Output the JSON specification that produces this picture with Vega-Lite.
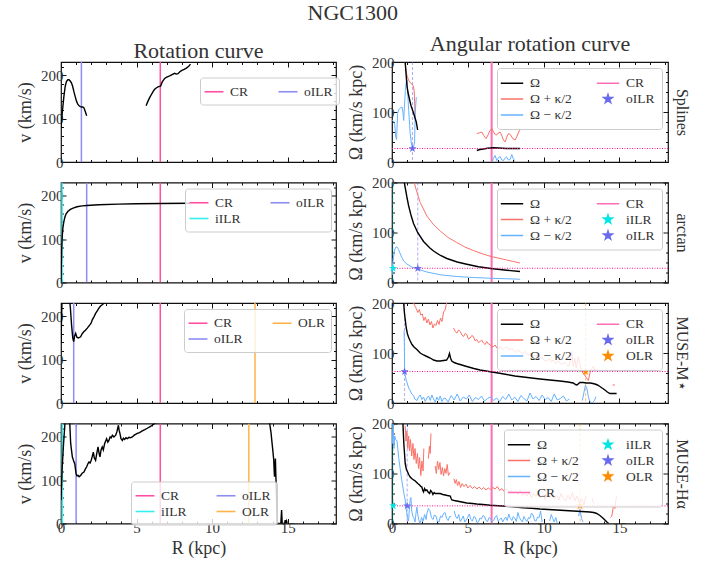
{
"$schema": "https://vega.github.io/schema/vega-lite/v6.json",
"padding": {"left": 15, "top": 2, "right": 0, "bottom": 2},
"title": {"text": "NGC1300", "fontSize": 22, "anchor": "middle", "offset": 7},
"config": {
  "font": "Liberation Serif",
  "view": {"stroke": "#111111", "strokeWidth": 1.2},
  "axis": {"labelFont": "Liberation Serif", "labelFontSize": 15, "labelColor": "#333333", "titleFont": "Liberation Serif", "titleFontSize": 18, "titleFontWeight": "normal", "titleColor": "#333333", "tickColor": "#111111", "tickWidth": 1, "grid": false, "labelFlush": false, "labelOverlap": false, "titlePadding": 4, "domain": false},
  "legend": {"labelFont": "Liberation Serif", "labelFontSize": 13.5, "labelColor": "#333333"},
  "title": {"font": "Liberation Serif", "fontWeight": "normal", "color": "#333333", "fontSize": 22}
},
"resolve": {"scale": {"stroke": "independent", "fill": "independent", "shape": "independent", "color": "independent"}, "legend": {"stroke": "independent", "fill": "independent", "shape": "independent", "color": "independent"}},
"datasets": {
  "ax": [{"R": 0, "W": 0}],
  "L1": [{"g":1,"R":0.0,"W":78},{"g":1,"R":0.1,"W":120},{"g":1,"R":0.19,"W":151},{"g":1,"R":0.28,"W":175},{"g":1,"R":0.36,"W":186},{"g":1,"R":0.45,"W":190},{"g":1,"R":0.53,"W":190},{"g":1,"R":0.61,"W":187},{"g":1,"R":0.69,"W":183},{"g":1,"R":0.77,"W":175},{"g":1,"R":0.85,"W":163},{"g":1,"R":0.95,"W":150},{"g":1,"R":1.03,"W":140},{"g":1,"R":1.12,"W":133},{"g":1,"R":1.2,"W":130},{"g":1,"R":1.28,"W":128},{"g":1,"R":1.37,"W":127},{"g":1,"R":1.45,"W":127},{"g":1,"R":1.52,"W":125},{"g":1,"R":1.6,"W":117},{"g":1,"R":1.7,"W":107},
    {"g":2,"R":5.63,"W":130},{"g":2,"R":5.75,"W":140},{"g":2,"R":5.86,"W":148},{"g":2,"R":6.0,"W":157},{"g":2,"R":6.1,"W":163},{"g":2,"R":6.2,"W":168},{"g":2,"R":6.3,"W":171},{"g":2,"R":6.45,"W":174},{"g":2,"R":6.59,"W":175},{"g":2,"R":6.7,"W":185},{"g":2,"R":6.86,"W":193},{"g":2,"R":7.0,"W":196},{"g":2,"R":7.19,"W":199},{"g":2,"R":7.35,"W":202},{"g":2,"R":7.52,"W":205},{"g":2,"R":7.64,"W":203},{"g":2,"R":7.74,"W":204},{"g":2,"R":7.85,"W":208},{"g":2,"R":7.97,"W":211},{"g":2,"R":8.15,"W":214},{"g":2,"R":8.3,"W":217},{"g":2,"R":8.45,"W":221},{"g":2,"R":8.57,"W":226}],
  "L1r": [{"lab":"CR","R":6.57},{"lab":"oILR","R":1.35}],
  "L2": [{"g":1,"R":0,"W":0},{"g":1,"R":0.02,"W":40},{"g":1,"R":0.04,"W":70},{"g":1,"R":0.07,"W":100},{"g":1,"R":0.12,"W":125},{"g":1,"R":0.18,"W":139},{"g":1,"R":0.25,"W":150},{"g":1,"R":0.33,"W":158},{"g":1,"R":0.45,"W":164},{"g":1,"R":0.62,"W":169},{"g":1,"R":0.8,"W":172},{"g":1,"R":1.06,"W":175},{"g":1,"R":1.4,"W":177},{"g":1,"R":1.7,"W":178},{"g":1,"R":2.5,"W":179.5},{"g":1,"R":3.8,"W":181},{"g":1,"R":5,"W":182},{"g":1,"R":6.6,"W":182.5},{"g":1,"R":8.53,"W":183}],
  "L2r": [{"lab":"CR","R":6.57},{"lab":"oILR","R":1.7},{"lab":"iILR","R":0.07}],
  "L3": [{"g":1,"R":0.0,"W":138},{"g":1,"R":0.04,"W":200},{"g":1,"R":0.07,"W":240},{"g":1,"R":0.3,"W":300},{"g":1,"R":0.55,"W":245},{"g":1,"R":0.62,"W":220},{"g":1,"R":0.7,"W":180},{"g":1,"R":0.78,"W":150},{"g":1,"R":0.84,"W":142},{"g":1,"R":0.9,"W":155},{"g":1,"R":0.97,"W":161},{"g":1,"R":1.05,"W":152},{"g":1,"R":1.15,"W":150},{"g":1,"R":1.3,"W":153},{"g":1,"R":1.4,"W":160},{"g":1,"R":1.52,"W":165},{"g":1,"R":1.62,"W":168},{"g":1,"R":1.74,"W":173},{"g":1,"R":1.85,"W":178},{"g":1,"R":1.92,"W":181},{"g":1,"R":2.0,"W":185},{"g":1,"R":2.07,"W":192},{"g":1,"R":2.18,"W":199},{"g":1,"R":2.29,"W":207},{"g":1,"R":2.4,"W":213},{"g":1,"R":2.51,"W":219},{"g":1,"R":2.62,"W":224},{"g":1,"R":2.73,"W":227},{"g":1,"R":2.89,"W":232},{"g":1,"R":3.1,"W":245}],
  "L3r": [{"lab":"CR","R":6.57},{"lab":"OLR","R":12.84},{"lab":"oILR","R":0.84}],
  "L4": [{"g":1,"R":0.0,"W":54},{"g":1,"R":0.08,"W":130},{"g":1,"R":0.17,"W":185},{"g":1,"R":0.25,"W":225},{"g":1,"R":0.3,"W":260},{"g":1,"R":0.4,"W":280},{"g":1,"R":0.5,"W":250},{"g":1,"R":0.58,"W":231},{"g":1,"R":0.64,"W":185},{"g":1,"R":0.75,"W":154},{"g":1,"R":0.85,"W":143},{"g":1,"R":0.91,"W":138},{"g":1,"R":0.96,"W":125},{"g":1,"R":1.0,"W":115},{"g":1,"R":1.06,"W":110},{"g":1,"R":1.13,"W":111},{"g":1,"R":1.2,"W":108},{"g":1,"R":1.3,"W":111},{"g":1,"R":1.4,"W":116},{"g":1,"R":1.52,"W":119},{"g":1,"R":1.6,"W":125},{"g":1,"R":1.7,"W":131},{"g":1,"R":1.78,"W":138},{"g":1,"R":1.85,"W":142},{"g":1,"R":1.93,"W":140},{"g":1,"R":2.0,"W":146},{"g":1,"R":2.07,"W":155},{"g":1,"R":2.14,"W":165},{"g":1,"R":2.2,"W":152},{"g":1,"R":2.29,"W":146},{"g":1,"R":2.36,"W":160},{"g":1,"R":2.45,"W":177},{"g":1,"R":2.52,"W":162},{"g":1,"R":2.58,"W":154},{"g":1,"R":2.65,"W":170},{"g":1,"R":2.73,"W":177},{"g":1,"R":2.8,"W":170},{"g":1,"R":2.89,"W":185},{"g":1,"R":2.95,"W":190},{"g":1,"R":3.02,"W":196},{"g":1,"R":3.1,"W":188},{"g":1,"R":3.17,"W":192},{"g":1,"R":3.25,"W":200},{"g":1,"R":3.32,"W":198},{"g":1,"R":3.4,"W":204},{"g":1,"R":3.5,"W":200},{"g":1,"R":3.62,"W":204},{"g":1,"R":3.7,"W":212},{"g":1,"R":3.8,"W":227},{"g":1,"R":3.85,"W":215},{"g":1,"R":3.9,"W":208},{"g":1,"R":3.97,"W":196},{"g":1,"R":4.06,"W":192},{"g":1,"R":4.13,"W":197},{"g":1,"R":4.21,"W":194},{"g":1,"R":4.3,"W":198},{"g":1,"R":4.39,"W":196},{"g":1,"R":4.5,"W":199},{"g":1,"R":4.6,"W":198},{"g":1,"R":4.72,"W":200},{"g":1,"R":4.85,"W":204},{"g":1,"R":5.05,"W":208},{"g":1,"R":5.2,"W":210},{"g":1,"R":5.38,"W":214},{"g":1,"R":5.55,"W":217},{"g":1,"R":5.71,"W":220},{"g":1,"R":5.9,"W":224},{"g":1,"R":6.04,"W":227},{"g":1,"R":6.2,"W":231},{"g":1,"R":6.5,"W":240},{"g":1,"R":8,"W":260},{"g":1,"R":10,"W":270},{"g":1,"R":12,"W":265},{"g":1,"R":13.5,"W":245},{"g":1,"R":13.81,"W":231},{"g":1,"R":13.9,"W":210},{"g":1,"R":13.97,"W":185},{"g":1,"R":14.03,"W":165},{"g":1,"R":14.08,"W":146},{"g":1,"R":14.11,"W":120},{"g":1,"R":14.13,"W":108},{"g":1,"R":14.16,"W":130},{"g":1,"R":14.19,"W":150},{"g":1,"R":14.22,"W":110},{"g":1,"R":14.26,"W":69},{"g":1,"R":14.3,"W":0},{"g":1,"R":14.55,"W":0},{"g":1,"R":14.6,"W":31},{"g":1,"R":14.64,"W":0},{"g":1,"R":14.8,"W":0},{"g":1,"R":14.84,"W":8},{"g":1,"R":14.87,"W":0},{"g":1,"R":14.93,"W":6},{"g":1,"R":14.97,"W":0}],
  "L4r": [{"lab":"CR","R":6.57},{"lab":"oILR","R":1.0},{"lab":"iILR","R":0.08},{"lab":"OLR","R":12.43}],
  "R1k": [{"g":1,"R":0.87,"W":200},{"g":1,"R":0.93,"W":175},{"g":1,"R":0.99,"W":152},{"g":1,"R":1.05,"W":140},{"g":1,"R":1.1,"W":133},{"g":1,"R":1.18,"W":122},{"g":1,"R":1.25,"W":113},{"g":1,"R":1.33,"W":106},{"g":1,"R":1.42,"W":98},{"g":1,"R":1.5,"W":90},{"g":1,"R":1.6,"W":80},{"g":1,"R":1.69,"W":64},
    {"g":2,"R":5.59,"W":23},{"g":2,"R":5.8,"W":25},{"g":2,"R":6.03,"W":26},{"g":2,"R":6.3,"W":27.5},{"g":2,"R":6.69,"W":28.5},{"g":2,"R":7.0,"W":28},{"g":2,"R":7.56,"W":27},{"g":2,"R":8.0,"W":27},{"g":2,"R":8.44,"W":27}],
  "R1p": [{"g":1,"R":0.85,"W":200},{"g":1,"R":0.92,"W":185},{"g":1,"R":0.99,"W":173},{"g":1,"R":1.1,"W":163},{"g":1,"R":1.25,"W":157},{"g":1,"R":1.35,"W":155},{"g":1,"R":1.42,"W":150},{"g":1,"R":1.47,"W":140},{"g":1,"R":1.5,"W":110},{"g":1,"R":1.53,"W":88},
    {"g":2,"R":5.59,"W":57},{"g":2,"R":5.75,"W":58},{"g":2,"R":5.92,"W":60},{"g":2,"R":6.05,"W":53},{"g":2,"R":6.2,"W":47},{"g":2,"R":6.3,"W":52},{"g":2,"R":6.45,"W":62},{"g":2,"R":6.58,"W":67},{"g":2,"R":6.7,"W":60},{"g":2,"R":6.8,"W":55},{"g":2,"R":6.91,"W":54},{"g":2,"R":7.0,"W":58},{"g":2,"R":7.13,"W":60},{"g":2,"R":7.25,"W":52},{"g":2,"R":7.35,"W":44},{"g":2,"R":7.46,"W":40},{"g":2,"R":7.57,"W":50},{"g":2,"R":7.68,"W":57},{"g":2,"R":7.8,"W":55},{"g":2,"R":7.9,"W":50},{"g":2,"R":8.0,"W":46},{"g":2,"R":8.12,"W":44},{"g":2,"R":8.25,"W":52},{"g":2,"R":8.35,"W":60},{"g":2,"R":8.44,"W":64}],
  "R1m": [{"g":1,"R":0.0,"W":84},{"g":1,"R":0.1,"W":82},{"g":1,"R":0.18,"W":75},{"g":1,"R":0.25,"W":50},{"g":1,"R":0.3,"W":45},{"g":1,"R":0.37,"W":97},{"g":1,"R":0.45,"W":105},{"g":1,"R":0.55,"W":108},{"g":1,"R":0.66,"W":110},{"g":1,"R":0.72,"W":100},{"g":1,"R":0.77,"W":83},{"g":1,"R":0.82,"W":110},{"g":1,"R":0.88,"W":143},{"g":1,"R":0.94,"W":160},{"g":1,"R":0.99,"W":163},{"g":1,"R":1.05,"W":130},{"g":1,"R":1.1,"W":103},{"g":1,"R":1.2,"W":57},{"g":1,"R":1.3,"W":33},{"g":1,"R":1.35,"W":28},{"g":1,"R":1.42,"W":30},{"g":1,"R":1.49,"W":40},{"g":1,"R":1.53,"W":97},{"g":1,"R":1.6,"W":130},
    {"g":2,"R":6.6,"W":0},{"g":2,"R":6.69,"W":7},{"g":2,"R":6.8,"W":13},{"g":2,"R":6.91,"W":3},{"g":2,"R":7.02,"W":9},{"g":2,"R":7.13,"W":11},{"g":2,"R":7.24,"W":4},{"g":2,"R":7.35,"W":3},{"g":2,"R":7.46,"W":8},{"g":2,"R":7.56,"W":10},{"g":2,"R":7.67,"W":4},{"g":2,"R":7.79,"W":5},{"g":2,"R":7.9,"W":15},{"g":2,"R":8.0,"W":6},{"g":2,"R":8.12,"W":3}],
  "R1r": [{"lab":"CR","R":6.57},{"lab":"oILR","R":1.35,"W":27},{"lab":"P","W":27}],
  "R2k": [{"g":1,"R":0.81,"W":200},{"g":1,"R":0.9,"W":185},{"g":1,"R":1.0,"W":168},{"g":1,"R":1.1,"W":153},{"g":1,"R":1.25,"W":135},{"g":1,"R":1.42,"W":118},{"g":1,"R":1.69,"W":100},{"g":1,"R":2.08,"W":82},{"g":1,"R":2.5,"W":69},{"g":1,"R":2.74,"W":63},{"g":1,"R":3.2,"W":54},{"g":1,"R":3.62,"W":48},{"g":1,"R":4.3,"W":41},{"g":1,"R":4.93,"W":36.5},{"g":1,"R":5.7,"W":31.5},{"g":1,"R":6.53,"W":28},{"g":1,"R":7.56,"W":24.5},{"g":1,"R":8.44,"W":22}],
  "R2p": [{"g":1,"R":1.47,"W":200},{"g":1,"R":1.6,"W":185},{"g":1,"R":1.86,"W":160},{"g":1,"R":2.3,"W":133},{"g":1,"R":2.7,"W":117},{"g":1,"R":3.18,"W":103},{"g":1,"R":3.7,"W":90},{"g":1,"R":4.27,"W":80},{"g":1,"R":4.8,"W":71},{"g":1,"R":5.37,"W":64},{"g":1,"R":6.0,"W":57},{"g":1,"R":6.53,"W":52},{"g":1,"R":7.0,"W":49},{"g":1,"R":7.56,"W":45},{"g":1,"R":8.0,"W":42},{"g":1,"R":8.44,"W":39}],
  "R2m": [{"g":1,"R":0.01,"W":15},{"g":1,"R":0.03,"W":35},{"g":1,"R":0.1,"W":50},{"g":1,"R":0.16,"W":63},{"g":1,"R":0.21,"W":68},{"g":1,"R":0.26,"W":71},{"g":1,"R":0.32,"W":71},{"g":1,"R":0.38,"W":69},{"g":1,"R":0.43,"W":66},{"g":1,"R":0.55,"W":57},{"g":1,"R":0.65,"W":50},{"g":1,"R":0.8,"W":42},{"g":1,"R":0.98,"W":37},{"g":1,"R":1.3,"W":31},{"g":1,"R":1.69,"W":27},{"g":1,"R":2.3,"W":21},{"g":1,"R":3.18,"W":15.5},{"g":1,"R":4.27,"W":12},{"g":1,"R":5.37,"W":10},{"g":1,"R":6.53,"W":8.5},{"g":1,"R":7.56,"W":7.5},{"g":1,"R":8.44,"W":6.5}],
  "R2r": [{"lab":"CR","R":6.57},{"lab":"iILR","R":0.07,"W":28.5},{"lab":"oILR","R":1.7,"W":28.5},{"lab":"P","W":28.5}],
  "R3k": [{"g":1,"R":0.77,"W":200},{"g":1,"R":0.82,"W":180},{"g":1,"R":0.88,"W":165},{"g":1,"R":0.94,"W":150},{"g":1,"R":1.02,"W":138},{"g":1,"R":1.1,"W":131},{"g":1,"R":1.2,"W":124},{"g":1,"R":1.32,"W":117},{"g":1,"R":1.45,"W":112},{"g":1,"R":1.64,"W":107},{"g":1,"R":1.86,"W":100},{"g":1,"R":2.08,"W":96},{"g":1,"R":2.3,"W":93},{"g":1,"R":2.52,"W":90},{"g":1,"R":2.74,"W":86},{"g":1,"R":2.96,"W":84},{"g":1,"R":3.18,"W":84},{"g":1,"R":3.4,"W":85},{"g":1,"R":3.6,"W":86},{"g":1,"R":3.72,"W":92},{"g":1,"R":3.79,"W":99},{"g":1,"R":3.86,"W":90},{"g":1,"R":3.94,"W":84},{"g":1,"R":4.1,"W":81},{"g":1,"R":4.27,"W":79},{"g":1,"R":4.6,"W":76},{"g":1,"R":4.93,"W":73},{"g":1,"R":5.4,"W":69},{"g":1,"R":5.8,"W":66},{"g":1,"R":6.2,"W":64},{"g":1,"R":6.58,"W":62},{"g":1,"R":7.0,"W":60},{"g":1,"R":7.56,"W":57},{"g":1,"R":8.1,"W":54},{"g":1,"R":8.66,"W":52},{"g":1,"R":9.2,"W":50},{"g":1,"R":9.76,"W":48},{"g":1,"R":10.4,"W":46},{"g":1,"R":11.07,"W":44},{"g":1,"R":11.6,"W":42},{"g":1,"R":11.95,"W":40},{"g":1,"R":12.1,"W":37},{"g":1,"R":12.2,"W":36},{"g":1,"R":12.39,"W":41},{"g":1,"R":12.6,"W":41},{"g":1,"R":12.83,"W":40},{"g":1,"R":13.1,"W":40},{"g":1,"R":13.38,"W":38},{"g":1,"R":13.55,"W":36},{"g":1,"R":13.71,"W":33},{"g":1,"R":13.9,"W":29},{"g":1,"R":14.04,"W":26},{"g":1,"R":14.2,"W":22},{"g":1,"R":14.37,"W":19},{"g":1,"R":14.6,"W":19},{"g":1,"R":14.81,"W":19}],
  "R3p": [{"g":1,"R":1.38,"W":205},{"g":1,"R":1.45,"W":198},{"g":1,"R":1.53,"W":193},{"g":1,"R":1.6,"W":189},{"g":1,"R":1.7,"W":181},{"g":1,"R":1.8,"W":187},{"g":1,"R":1.9,"W":176},{"g":1,"R":2.0,"W":178},{"g":1,"R":2.1,"W":165},{"g":1,"R":2.2,"W":172},{"g":1,"R":2.3,"W":160},{"g":1,"R":2.4,"W":168},{"g":1,"R":2.5,"W":156},{"g":1,"R":2.6,"W":163},{"g":1,"R":2.7,"W":150},{"g":1,"R":2.8,"W":158},{"g":1,"R":2.9,"W":155},{"g":1,"R":3.0,"W":165},{"g":1,"R":3.1,"W":157},{"g":1,"R":3.2,"W":170},{"g":1,"R":3.3,"W":163},{"g":1,"R":3.4,"W":182},{"g":1,"R":3.5,"W":186},{"g":1,"R":3.58,"W":197},{"g":1,"R":3.68,"W":207},
    {"g":2,"R":4.06,"W":150},{"g":2,"R":4.17,"W":143},{"g":2,"R":4.28,"W":140},{"g":2,"R":4.39,"W":146},{"g":2,"R":4.5,"W":143},{"g":2,"R":4.61,"W":136},{"g":2,"R":4.72,"W":133},{"g":2,"R":4.83,"W":139},{"g":2,"R":4.93,"W":137},{"g":2,"R":5.04,"W":128},{"g":2,"R":5.15,"W":130},{"g":2,"R":5.26,"W":135},{"g":2,"R":5.37,"W":133},{"g":2,"R":5.48,"W":124},{"g":2,"R":5.59,"W":127},{"g":2,"R":5.7,"W":121},{"g":2,"R":5.81,"W":123},{"g":2,"R":5.92,"W":126},{"g":2,"R":6.03,"W":120},{"g":2,"R":6.14,"W":117},{"g":2,"R":6.25,"W":123},{"g":2,"R":6.36,"W":118},{"g":2,"R":6.47,"W":117},{"g":2,"R":6.58,"W":112},{"g":2,"R":6.69,"W":113},{"g":2,"R":6.8,"W":116},{"g":2,"R":6.91,"W":110},{"g":2,"R":7.02,"W":108},{"g":2,"R":7.13,"W":113},{"g":2,"R":7.24,"W":109},{"g":2,"R":7.35,"W":107},{"g":2,"R":7.46,"W":111},{"g":2,"R":7.57,"W":113},{"g":2,"R":7.7,"W":106},{"g":2,"R":7.85,"W":109},{"g":2,"R":8.0,"W":107},{"g":2,"R":8.15,"W":101},{"g":2,"R":8.3,"W":106},{"g":2,"R":8.44,"W":103},{"g":2,"R":8.6,"W":98},{"g":2,"R":8.75,"W":103},{"g":2,"R":8.88,"W":100},{"g":2,"R":9.0,"W":95},{"g":2,"R":9.15,"W":99},{"g":2,"R":9.32,"W":93},{"g":2,"R":9.5,"W":96},{"g":2,"R":9.65,"W":88},{"g":2,"R":9.76,"W":90},{"g":2,"R":9.9,"W":92},{"g":2,"R":10.05,"W":85},{"g":2,"R":10.2,"W":84},{"g":2,"R":10.35,"W":89},{"g":2,"R":10.5,"W":83},{"g":2,"R":10.64,"W":86},{"g":2,"R":10.8,"W":79},{"g":2,"R":10.95,"W":84},{"g":2,"R":11.07,"W":80},{"g":2,"R":11.2,"W":77},{"g":2,"R":11.35,"W":82},{"g":2,"R":11.51,"W":77},{"g":2,"R":11.65,"W":74},{"g":2,"R":11.75,"W":85},{"g":2,"R":11.85,"W":103},{"g":2,"R":11.95,"W":73},{"g":2,"R":12.05,"W":90},{"g":2,"R":12.15,"W":70},{"g":2,"R":12.28,"W":93},{"g":2,"R":12.4,"W":75},{"g":2,"R":12.5,"W":64},{"g":2,"R":12.65,"W":58},{"g":2,"R":12.83,"W":50},{"g":2,"R":12.95,"W":45},{"g":2,"R":13.05,"W":60},{"g":2,"R":13.15,"W":68},{"g":2,"R":13.27,"W":73},{"g":2,"R":13.38,"W":65},{"g":2,"R":13.49,"W":70},
    {"g":3,"R":14.55,"W":36},{"g":3,"R":14.7,"W":36}],
  "R3m": [{"g":1,"R":0.8,"W":145},{"g":1,"R":0.82,"W":100},{"g":1,"R":0.83,"W":63},{"g":1,"R":0.9,"W":50},{"g":1,"R":1.0,"W":40},{"g":1,"R":1.1,"W":30},{"g":1,"R":1.2,"W":25},{"g":1,"R":1.3,"W":18},{"g":1,"R":1.42,"W":15},{"g":1,"R":1.5,"W":8},{"g":1,"R":1.64,"W":5},{"g":1,"R":1.75,"W":12},{"g":1,"R":1.86,"W":16},{"g":1,"R":1.97,"W":7},{"g":1,"R":2.08,"W":12},{"g":1,"R":2.19,"W":3},{"g":1,"R":2.3,"W":10},{"g":1,"R":2.41,"W":14},{"g":1,"R":2.52,"W":5},{"g":1,"R":2.63,"W":16},{"g":1,"R":2.74,"W":8},{"g":1,"R":2.85,"W":2},{"g":1,"R":2.96,"W":12},{"g":1,"R":3.07,"W":5},{"g":1,"R":3.18,"W":14},{"g":1,"R":3.29,"W":3},{"g":1,"R":3.4,"W":9},{"g":1,"R":3.5,"W":10},{"g":1,"R":3.7,"W":2},{"g":1,"R":3.9,"W":15},{"g":1,"R":4.1,"W":6},{"g":1,"R":4.3,"W":18},{"g":1,"R":4.5,"W":4},{"g":1,"R":4.7,"W":12},{"g":1,"R":4.9,"W":8},{"g":1,"R":5.1,"W":16},{"g":1,"R":5.3,"W":3},{"g":1,"R":5.5,"W":11},{"g":1,"R":5.7,"W":7},{"g":1,"R":5.9,"W":14},{"g":1,"R":6.1,"W":4},{"g":1,"R":6.3,"W":9},{"g":1,"R":6.5,"W":12},{"g":1,"R":6.7,"W":5},{"g":1,"R":6.9,"W":10},{"g":1,"R":7.1,"W":3},{"g":1,"R":7.3,"W":13},{"g":1,"R":7.5,"W":7},{"g":1,"R":7.7,"W":18},{"g":1,"R":7.9,"W":6},{"g":1,"R":8.1,"W":12},{"g":1,"R":8.3,"W":3},{"g":1,"R":8.5,"W":15},{"g":1,"R":8.7,"W":9},{"g":1,"R":8.9,"W":4},{"g":1,"R":9.1,"W":20},{"g":1,"R":9.3,"W":8},{"g":1,"R":9.5,"W":13},{"g":1,"R":9.7,"W":5},{"g":1,"R":9.9,"W":16},{"g":1,"R":10.1,"W":7},{"g":1,"R":10.3,"W":11},{"g":1,"R":10.5,"W":3},{"g":1,"R":10.7,"W":18},{"g":1,"R":10.9,"W":6},{"g":1,"R":11.1,"W":9},{"g":1,"R":11.3,"W":14},{"g":1,"R":11.5,"W":4},{"g":1,"R":11.7,"W":8},
    {"g":2,"R":12.55,"W":5},{"g":2,"R":12.65,"W":20},{"g":2,"R":12.75,"W":35},{"g":2,"R":12.85,"W":30},{"g":2,"R":12.95,"W":12},{"g":2,"R":13.05,"W":3},{"g":2,"R":13.2,"W":0},{"g":2,"R":13.35,"W":5},{"g":2,"R":13.45,"W":13}],
  "R3r": [{"lab":"CR","R":6.57},{"lab":"oILR","R":0.83,"W":63},{"lab":"OLR","R":12.77,"W":63},{"lab":"P","W":63}],
  "R4k": [{"g":1,"R":0.72,"W":200},{"g":1,"R":0.78,"W":160},{"g":1,"R":0.87,"W":120},{"g":1,"R":0.95,"W":108},{"g":1,"R":1.03,"W":103},{"g":1,"R":1.1,"W":98},{"g":1,"R":1.2,"W":93},{"g":1,"R":1.3,"W":90},{"g":1,"R":1.42,"W":87},{"g":1,"R":1.5,"W":86},{"g":1,"R":1.6,"W":83},{"g":1,"R":1.7,"W":80},{"g":1,"R":1.82,"W":77},{"g":1,"R":1.9,"W":74},{"g":1,"R":1.97,"W":73},{"g":1,"R":2.03,"W":66},{"g":1,"R":2.08,"W":63},{"g":1,"R":2.15,"W":70},{"g":1,"R":2.22,"W":66},{"g":1,"R":2.3,"W":67},{"g":1,"R":2.38,"W":63},{"g":1,"R":2.48,"W":60},{"g":1,"R":2.55,"W":66},{"g":1,"R":2.63,"W":63},{"g":1,"R":2.7,"W":58},{"g":1,"R":2.78,"W":62},{"g":1,"R":2.85,"W":60},{"g":1,"R":3.0,"W":60},{"g":1,"R":3.18,"W":60},{"g":1,"R":3.35,"W":58},{"g":1,"R":3.51,"W":57},{"g":1,"R":3.65,"W":56},{"g":1,"R":3.84,"W":55},{"g":1,"R":3.9,"W":50},{"g":1,"R":3.95,"W":47},{"g":1,"R":4.1,"W":46},{"g":1,"R":4.27,"W":45},{"g":1,"R":4.6,"W":43},{"g":1,"R":4.93,"W":41},{"g":1,"R":5.3,"W":40},{"g":1,"R":5.59,"W":39},{"g":1,"R":6.0,"W":38},{"g":1,"R":6.47,"W":36.5},{"g":1,"R":7.0,"W":35.5},{"g":1,"R":7.57,"W":34.5},{"g":1,"R":8.1,"W":33},{"g":1,"R":8.66,"W":31.5},{"g":1,"R":9.2,"W":30.5},{"g":1,"R":9.76,"W":29},{"g":1,"R":10.3,"W":28},{"g":1,"R":10.86,"W":27},{"g":1,"R":11.4,"W":26},{"g":1,"R":11.95,"W":25},{"g":1,"R":12.5,"W":24},{"g":1,"R":13.05,"W":23},{"g":1,"R":13.3,"W":22},{"g":1,"R":13.5,"W":20},{"g":1,"R":13.71,"W":16},{"g":1,"R":13.9,"W":11},{"g":1,"R":14.04,"W":7},{"g":1,"R":14.2,"W":2},{"g":1,"R":14.3,"W":0}],
  "R4p": [{"g":1,"R":0.87,"W":195},{"g":1,"R":0.92,"W":165},{"g":1,"R":0.98,"W":185},{"g":1,"R":1.04,"W":150},{"g":1,"R":1.1,"W":175},{"g":1,"R":1.16,"W":145},{"g":1,"R":1.22,"W":168},{"g":1,"R":1.3,"W":135},{"g":1,"R":1.38,"W":160},{"g":1,"R":1.45,"W":128},{"g":1,"R":1.52,"W":150},{"g":1,"R":1.6,"W":120},{"g":1,"R":1.68,"W":140},{"g":1,"R":1.75,"W":110},{"g":1,"R":1.82,"W":132},{"g":1,"R":1.9,"W":96},{"g":1,"R":1.97,"W":125},{"g":1,"R":2.05,"W":105},{"g":1,"R":2.1,"W":150},
    {"g":2,"R":2.4,"W":130},{"g":2,"R":2.47,"W":155},{"g":2,"R":2.52,"W":140},{"g":2,"R":2.57,"W":180},
    {"g":3,"R":2.85,"W":115},{"g":3,"R":2.92,"W":100},{"g":3,"R":3.0,"W":125},{"g":3,"R":3.08,"W":108},{"g":3,"R":3.16,"W":122},{"g":3,"R":3.24,"W":98},{"g":3,"R":3.32,"W":112},{"g":3,"R":3.4,"W":95},{"g":3,"R":3.48,"W":110},{"g":3,"R":3.56,"W":100},{"g":3,"R":3.64,"W":118},{"g":3,"R":3.72,"W":96},{"g":3,"R":3.82,"W":102},
    {"g":4,"R":4.08,"W":90},{"g":4,"R":4.16,"W":80},{"g":4,"R":4.24,"W":88},{"g":4,"R":4.32,"W":76},{"g":4,"R":4.42,"W":84},{"g":4,"R":4.52,"W":72},{"g":4,"R":4.62,"W":80},{"g":4,"R":4.75,"W":74},{"g":4,"R":4.88,"W":79},{"g":4,"R":5.0,"W":71},{"g":4,"R":5.15,"W":76},{"g":4,"R":5.3,"W":70},{"g":4,"R":5.45,"W":74},{"g":4,"R":5.6,"W":69},{"g":4,"R":5.75,"W":73},{"g":4,"R":5.9,"W":68},{"g":4,"R":6.05,"W":72},{"g":4,"R":6.2,"W":67},{"g":4,"R":6.35,"W":71},{"g":4,"R":6.5,"W":68},{"g":4,"R":6.65,"W":72},{"g":4,"R":6.8,"W":69},{"g":4,"R":6.95,"W":74},{"g":4,"R":7.1,"W":66},{"g":4,"R":7.25,"W":70},{"g":4,"R":7.4,"W":64},{"g":4,"R":7.55,"W":69},{"g":4,"R":7.7,"W":63},{"g":4,"R":7.85,"W":67},{"g":4,"R":8.0,"W":60},{"g":4,"R":8.15,"W":65},{"g":4,"R":8.3,"W":58},{"g":4,"R":8.45,"W":66},{"g":4,"R":8.6,"W":56},{"g":4,"R":8.75,"W":63},{"g":4,"R":8.9,"W":55},{"g":4,"R":9.05,"W":61},{"g":4,"R":9.2,"W":52},{"g":4,"R":9.35,"W":60},{"g":4,"R":9.5,"W":54},{"g":4,"R":9.65,"W":62},{"g":4,"R":9.8,"W":50},{"g":4,"R":9.95,"W":58},{"g":4,"R":10.1,"W":48},{"g":4,"R":10.25,"W":60},{"g":4,"R":10.4,"W":52},{"g":4,"R":10.55,"W":63},{"g":4,"R":10.7,"W":49},{"g":4,"R":10.85,"W":56},{"g":4,"R":11.0,"W":47},{"g":4,"R":11.15,"W":60},{"g":4,"R":11.3,"W":50},{"g":4,"R":11.45,"W":45},{"g":4,"R":11.6,"W":57},{"g":4,"R":11.75,"W":48},{"g":4,"R":11.9,"W":62},{"g":4,"R":12.05,"W":45},{"g":4,"R":12.2,"W":55},{"g":4,"R":12.35,"W":42},{"g":4,"R":12.5,"W":50},{"g":4,"R":12.65,"W":38},{"g":4,"R":12.8,"W":55},
    {"g":5,"R":13.2,"W":50},{"g":5,"R":13.3,"W":40},
    {"g":6,"R":14.4,"W":12},{"g":6,"R":14.5,"W":15},{"g":6,"R":14.6,"W":35},{"g":6,"R":14.7,"W":30},{"g":6,"R":14.8,"W":55}],
  "R4m": [{"g":1,"R":0.0,"W":200},{"g":1,"R":0.04,"W":160},{"g":1,"R":0.08,"W":198},{"g":1,"R":0.13,"W":150},{"g":1,"R":0.18,"W":175},{"g":1,"R":0.25,"W":168},{"g":1,"R":0.33,"W":165},{"g":1,"R":0.45,"W":130},{"g":1,"R":0.55,"W":107},{"g":1,"R":0.65,"W":85},{"g":1,"R":0.72,"W":73},{"g":1,"R":0.8,"W":58},{"g":1,"R":0.87,"W":47},{"g":1,"R":0.93,"W":30},{"g":1,"R":0.98,"W":20},{"g":1,"R":1.03,"W":10},{"g":1,"R":1.09,"W":5},{"g":1,"R":1.15,"W":30},{"g":1,"R":1.2,"W":48},{"g":1,"R":1.25,"W":52},{"g":1,"R":1.3,"W":25},{"g":1,"R":1.38,"W":14},{"g":1,"R":1.45,"W":10},{"g":1,"R":1.52,"W":3},{"g":1,"R":1.58,"W":20},{"g":1,"R":1.64,"W":33},{"g":1,"R":1.7,"W":18},{"g":1,"R":1.78,"W":6},{"g":1,"R":1.85,"W":0},{"g":1,"R":1.95,"W":12},{"g":1,"R":2.05,"W":5},{"g":1,"R":2.15,"W":18},{"g":1,"R":2.25,"W":8},{"g":1,"R":2.3,"W":20},{"g":1,"R":2.4,"W":30},{"g":1,"R":2.5,"W":26},{"g":1,"R":2.6,"W":12},{"g":1,"R":2.7,"W":8},{"g":1,"R":2.8,"W":17},{"g":1,"R":2.9,"W":15},{"g":1,"R":3.0,"W":4},{"g":1,"R":3.1,"W":3},{"g":1,"R":3.2,"W":15},{"g":1,"R":3.3,"W":12},{"g":1,"R":3.4,"W":20},{"g":1,"R":3.5,"W":22},{"g":1,"R":3.6,"W":10},{"g":1,"R":3.7,"W":6},{"g":1,"R":3.8,"W":14},{"g":1,"R":3.9,"W":14},
    {"g":2,"R":4.1,"W":25},{"g":2,"R":4.2,"W":14},{"g":2,"R":4.3,"W":10},{"g":2,"R":4.4,"W":18},{"g":2,"R":4.5,"W":4},{"g":2,"R":4.6,"W":9},{"g":2,"R":4.7,"W":15},{"g":2,"R":4.8,"W":3},{"g":2,"R":4.9,"W":7},{"g":2,"R":5.0,"W":13},{"g":2,"R":5.1,"W":19},{"g":2,"R":5.2,"W":8},{"g":2,"R":5.3,"W":5},{"g":2,"R":5.4,"W":14},{"g":2,"R":5.5,"W":12},{"g":2,"R":5.6,"W":2},{"g":2,"R":5.7,"W":3},{"g":2,"R":5.8,"W":11},{"g":2,"R":5.9,"W":9},{"g":2,"R":6.0,"W":16},{"g":2,"R":6.1,"W":14},{"g":2,"R":6.2,"W":6},{"g":2,"R":6.3,"W":4},{"g":2,"R":6.4,"W":12},{"g":2,"R":6.5,"W":10},{"g":2,"R":6.6,"W":3},{"g":2,"R":6.7,"W":6},{"g":2,"R":6.8,"W":13},{"g":2,"R":6.9,"W":16},{"g":2,"R":7.0,"W":5},{"g":2,"R":7.1,"W":8},{"g":2,"R":7.2,"W":11},{"g":2,"R":7.3,"W":3},{"g":2,"R":7.4,"W":9},{"g":2,"R":7.5,"W":13},{"g":2,"R":7.6,"W":6},{"g":2,"R":7.7,"W":19},{"g":2,"R":7.8,"W":10},{"g":2,"R":7.9,"W":6},{"g":2,"R":8.0,"W":14},{"g":2,"R":8.1,"W":11},{"g":2,"R":8.2,"W":4},{"g":2,"R":8.3,"W":22},{"g":2,"R":8.4,"W":12},{"g":2,"R":8.5,"W":7},{"g":2,"R":8.6,"W":3},{"g":2,"R":8.7,"W":14},{"g":2,"R":8.8,"W":8},{"g":2,"R":8.9,"W":4},{"g":2,"R":9.0,"W":12},{"g":2,"R":9.1,"W":10},{"g":2,"R":9.2,"W":21},{"g":2,"R":9.3,"W":17},{"g":2,"R":9.4,"W":6},{"g":2,"R":9.5,"W":5},{"g":2,"R":9.6,"W":13},{"g":2,"R":9.7,"W":12},{"g":2,"R":9.8,"W":25},{"g":2,"R":9.9,"W":3},
    {"g":3,"R":10.4,"W":5},{"g":3,"R":10.5,"W":18},{"g":3,"R":10.6,"W":10},{"g":3,"R":10.7,"W":3},{"g":3,"R":10.8,"W":12},{"g":3,"R":10.9,"W":0},
    {"g":4,"R":12.3,"W":15},{"g":4,"R":12.4,"W":28},{"g":4,"R":12.5,"W":10},{"g":4,"R":12.6,"W":3}],
  "R4r": [{"lab":"CR","R":6.57},{"lab":"iILR","R":0.08,"W":35.3},{"lab":"oILR","R":1.0,"W":35.3},{"lab":"OLR","R":12.4,"W":35.3},{"lab":"P","W":35.3}]
},
"columns": 2,
"spacing": {"row": 20.5, "column": 56},
"bounds": "flush",
"concat": [
 {"width": 275, "height": 100,
  "title": {"text": "Rotation curve", "fontSize": 22, "offset": -1},
  "layer": [
   {"data":{"name":"ax"},"mark":{"type":"point","opacity":0},"encoding":{"x":{"field":"R","type":"quantitative","scale":{"domain":[0,18.2],"nice":false,"zero":false},"axis":{"orient":"bottom","values":[0,5,10,15],"labels":false,"tickSize":-5,"title":null}},"y":{"field":"W","type":"quantitative","scale":{"domain":[0,231],"nice":false,"zero":false},"axis":{"orient":"left","values":[0,100,200],"tickSize":-5,"labelPadding":3,"titlePadding":6.5,"title":"v (km/s)"}}}},
   {"data":{"name":"ax"},"mark":{"type":"point","opacity":0},"encoding":{"x":{"field":"R","type":"quantitative","scale":{"domain":[0,18.2],"nice":false,"zero":false},"axis":{"orient":"bottom","values":[1,2,3,4,6,7,8,9,11,12,13,14,16,17,18],"labels":false,"tickSize":-2.5,"title":null}},"y":{"field":"W","type":"quantitative","scale":{"domain":[0,231],"nice":false,"zero":false},"axis":{"orient":"left","values":[20,40,60,80,120,140,160,180,220],"labels":false,"tickSize":-2.5,"title":null}}}},
   {"data":{"name":"ax"},"mark":{"type":"point","opacity":0},"encoding":{"x":{"field":"R","type":"quantitative","scale":{"domain":[0,18.2],"nice":false,"zero":false},"axis":{"orient":"top","values":[0,5,10,15],"labels":false,"tickSize":-5,"title":null}},"y":{"field":"W","type":"quantitative","scale":{"domain":[0,231],"nice":false,"zero":false},"axis":{"orient":"right","values":[0,100,200],"labels":false,"tickSize":-5,"title":null}}}},
   {"data":{"name":"ax"},"mark":{"type":"point","opacity":0},"encoding":{"x":{"field":"R","type":"quantitative","scale":{"domain":[0,18.2],"nice":false,"zero":false},"axis":{"orient":"top","values":[1,2,3,4,6,7,8,9,11,12,13,14,16,17,18],"labels":false,"tickSize":-2.5,"title":null}},"y":{"field":"W","type":"quantitative","scale":{"domain":[0,231],"nice":false,"zero":false},"axis":{"orient":"right","values":[20,40,60,80,120,140,160,180,220],"labels":false,"tickSize":-2.5,"title":null}}}},
   {"data":{"name":"L1r"},"mark":{"type":"rule","strokeWidth":1.5,"clip":true},"encoding":{"x":{"field":"R","type":"quantitative","scale":{"domain":[0,18.2],"nice":false,"zero":false},"axis":null},"stroke":{"field":"lab","type":"nominal","scale":{"domain":["CR","oILR"],"range":["#ff4fa3","#8c8cf5"]},"legend":{"title":null,"orient":"none","legendX":139,"legendY":15.5,"columns":2,"symbolType":"M-1.35,0L1.35,0","symbolSize":196,"symbolStrokeWidth":1.6,"columnPadding":26,"rowPadding":1,"padding":6,"labelOffset":8,"strokeColor":"#cccccc","fillColor":"rgba(255,255,255,0.8)","cornerRadius":3,"labelFontSize":13.5,"symbolOpacity":1}}}},
   {"data":{"name":"L1"},"mark":{"type":"line","color":"#000000","strokeWidth":1.4,"clip":true},"encoding":{"x":{"field":"R","type":"quantitative","scale":{"domain":[0,18.2],"nice":false,"zero":false},"axis":null},"y":{"field":"W","type":"quantitative","scale":{"domain":[0,231],"nice":false,"zero":false},"axis":null},"detail":{"field":"g","type":"nominal"}}}
  ],
  "resolve": {"axis": {"x": "independent", "y": "independent"}}
 },
 {"width": 276, "height": 100,
  "title": {"text": "Angular rotation curve", "fontSize": 22, "offset": -1},
  "layer": [
   {"data":{"name":"ax"},"mark":{"type":"point","opacity":0},"encoding":{"x":{"field":"R","type":"quantitative","scale":{"domain":[0,18.2],"nice":false,"zero":false},"axis":{"orient":"bottom","values":[0,5,10,15],"labels":false,"tickSize":-5,"title":null}},"y":{"field":"W","type":"quantitative","scale":{"domain":[0,200],"nice":false,"zero":false},"axis":{"orient":"left","values":[0,100,200],"tickSize":-5,"labelPadding":3,"titlePadding":6.5,"title":"Ω (km/s kpc)"}}}},
   {"data":{"name":"ax"},"mark":{"type":"point","opacity":0},"encoding":{"x":{"field":"R","type":"quantitative","scale":{"domain":[0,18.2],"nice":false,"zero":false},"axis":{"orient":"bottom","values":[1,2,3,4,6,7,8,9,11,12,13,14,16,17,18],"labels":false,"tickSize":-2.5,"title":null}},"y":{"field":"W","type":"quantitative","scale":{"domain":[0,200],"nice":false,"zero":false},"axis":{"orient":"left","values":[20,40,60,80,120,140,160,180],"labels":false,"tickSize":-2.5,"title":null}}}},
   {"data":{"name":"ax"},"mark":{"type":"point","opacity":0},"encoding":{"x":{"field":"R","type":"quantitative","scale":{"domain":[0,18.2],"nice":false,"zero":false},"axis":{"orient":"top","values":[0,5,10,15],"labels":false,"tickSize":-5,"title":null}},"y":{"field":"W","type":"quantitative","scale":{"domain":[0,200],"nice":false,"zero":false},"axis":{"orient":"right","values":[0,100,200],"labels":false,"tickSize":-5,"title":"Splines","titleFontSize":16,"titlePadding":5}}}},
   {"data":{"name":"ax"},"mark":{"type":"point","opacity":0},"encoding":{"x":{"field":"R","type":"quantitative","scale":{"domain":[0,18.2],"nice":false,"zero":false},"axis":{"orient":"top","values":[1,2,3,4,6,7,8,9,11,12,13,14,16,17,18],"labels":false,"tickSize":-2.5,"title":null}},"y":{"field":"W","type":"quantitative","scale":{"domain":[0,200],"nice":false,"zero":false},"axis":{"orient":"right","values":[20,40,60,80,120,140,160,180],"labels":false,"tickSize":-2.5,"title":null}}}},
   {"data":{"name":"R1r"},"transform":[{"filter":"datum.lab !== 'CR' && datum.lab !== 'P'"}],"mark":{"type":"rule","strokeWidth":1,"strokeDash":[3,2],"opacity":0.55,"clip":true},"encoding":{"x":{"field":"R","type":"quantitative","scale":{"domain":[0,18.2],"nice":false,"zero":false},"axis":null},"color":{"field":"lab","type":"nominal","scale":{"domain":["iILR","oILR","OLR"],"range":["#00e5e5","#6a6af0","#ff8c00"]},"legend":null}}},
   {"data":{"name":"R1r"},"transform":[{"filter":"datum.lab === 'CR'"}],"mark":{"type":"rule","strokeWidth":2,"color":"#ff6eb4","clip":true},"encoding":{"x":{"field":"R","type":"quantitative","scale":{"domain":[0,18.2],"nice":false,"zero":false},"axis":null}}},
   {"data":{"name":"R1p"},"mark":{"type":"line","color":"#fa7268","strokeWidth":1,"clip":true},"encoding":{"x":{"field":"R","type":"quantitative","scale":{"domain":[0,18.2],"nice":false,"zero":false},"axis":null},"y":{"field":"W","type":"quantitative","scale":{"domain":[0,200],"nice":false,"zero":false},"axis":null},"detail":{"field":"g","type":"nominal"}}},
   {"data":{"name":"R1m"},"mark":{"type":"line","color":"#66b2ff","strokeWidth":1,"clip":true},"encoding":{"x":{"field":"R","type":"quantitative","scale":{"domain":[0,18.2],"nice":false,"zero":false},"axis":null},"y":{"field":"W","type":"quantitative","scale":{"domain":[0,200],"nice":false,"zero":false},"axis":null},"detail":{"field":"g","type":"nominal"}}},
   {"data":{"name":"R1k"},"mark":{"type":"line","color":"#000000","strokeWidth":1.4,"clip":true},"encoding":{"x":{"field":"R","type":"quantitative","scale":{"domain":[0,18.2],"nice":false,"zero":false},"axis":null},"y":{"field":"W","type":"quantitative","scale":{"domain":[0,200],"nice":false,"zero":false},"axis":null},"detail":{"field":"g","type":"nominal"}}},
   {"data":{"name":"R1r"},"transform":[{"filter":"datum.lab === 'P'"}],"mark":{"type":"rule","strokeWidth":1,"strokeDash":[1,1.5],"color":"#ff1493","clip":true},"encoding":{"y":{"field":"W","type":"quantitative","scale":{"domain":[0,200],"nice":false,"zero":false},"axis":null}}},
   {"data":{"name":"R1r"},"transform":[{"filter":"datum.lab !== 'CR' && datum.lab !== 'P'"}],"mark":{"type":"point","filled":true,"opacity":1,"size":75,"shape":"M0,-1L0.2245,-0.309L0.951,-0.309L0.3633,0.118L0.588,0.809L0,0.382L-0.588,0.809L-0.3633,0.118L-0.951,-0.309L-0.2245,-0.309Z"},"encoding":{"x":{"field":"R","type":"quantitative","scale":{"domain":[0,18.2],"nice":false,"zero":false},"axis":null},"y":{"field":"W","type":"quantitative","scale":{"domain":[0,200],"nice":false,"zero":false},"axis":null},"color":{"field":"lab","type":"nominal","scale":{"domain":["iILR","oILR","OLR"],"range":["#00e5e5","#6a6af0","#ff8c00"]},"legend":null}}},
   {"data":{"values":[{"lab":"Ω"},{"lab":"CR"},{"lab":"Ω + κ/2"},{"lab":"oILR"},{"lab":"Ω − κ/2"}]},"mark":{"type":"point","opacity":0},"encoding":{"x":{"datum":1,"type":"quantitative","scale":{"domain":[0,18.2],"nice":false,"zero":false},"axis":null},"y":{"datum":1,"type":"quantitative","scale":{"domain":[0,200],"nice":false,"zero":false},"axis":null},
     "stroke":{"field":"lab","type":"nominal","scale":{"domain":["Ω","Ω + κ/2","Ω − κ/2","CR","oILR"],"range":["#000000","#fa7268","#66b2ff","#ff6eb4","#6a6af0"]},"legend":{"title":null,"orient":"top-right","offset":6,"columns":2,"symbolSize":196,"symbolStrokeWidth":1.5,"columnPadding":21,"rowPadding":1,"padding":7,"labelOffset":10,"strokeColor":"#cccccc","fillColor":"rgba(255,255,255,0.8)","cornerRadius":3,"labelFontSize":13.5,"symbolOpacity":1}},
     "fill":{"field":"lab","type":"nominal","scale":{"domain":["Ω","Ω + κ/2","Ω − κ/2","CR","oILR"],"range":["transparent","transparent","transparent","transparent","#6a6af0"]},"legend":{"title":null,"orient":"top-right","offset":6,"columns":2,"symbolSize":196,"symbolStrokeWidth":1.5,"columnPadding":21,"rowPadding":1,"padding":7,"labelOffset":10,"strokeColor":"#cccccc","fillColor":"rgba(255,255,255,0.8)","cornerRadius":3,"labelFontSize":13.5,"symbolOpacity":1}},
     "shape":{"field":"lab","type":"nominal","scale":{"domain":["Ω","Ω + κ/2","Ω − κ/2","CR","oILR"],"range":["M-1.6,0L1.6,0","M-1.6,0L1.6,0","M-1.6,0L1.6,0","M-1.6,0L1.6,0","M0,-0.64L0.1437,-0.1978L0.6086,-0.1978L0.2325,0.0755L0.3763,0.5178L0,0.2445L-0.3763,0.5178L-0.2325,0.0755L-0.6086,-0.1978L-0.1437,-0.1978Z"]},"legend":{"title":null,"orient":"top-right","offset":6,"columns":2,"symbolSize":196,"symbolStrokeWidth":1.5,"columnPadding":21,"rowPadding":1,"padding":7,"labelOffset":10,"strokeColor":"#cccccc","fillColor":"rgba(255,255,255,0.8)","cornerRadius":3,"labelFontSize":13.5,"symbolOpacity":1}}}}
  ],
  "resolve": {"axis": {"x": "independent", "y": "independent"}}
 },
 {"width": 275, "height": 100,
  "layer": [
   {"data":{"name":"ax"},"mark":{"type":"point","opacity":0},"encoding":{"x":{"field":"R","type":"quantitative","scale":{"domain":[0,18.2],"nice":false,"zero":false},"axis":{"orient":"bottom","values":[0,5,10,15],"labels":false,"tickSize":-5,"title":null}},"y":{"field":"W","type":"quantitative","scale":{"domain":[0,231],"nice":false,"zero":false},"axis":{"orient":"left","values":[0,100,200],"tickSize":-5,"labelPadding":3,"titlePadding":6.5,"title":"v (km/s)"}}}},
   {"data":{"name":"ax"},"mark":{"type":"point","opacity":0},"encoding":{"x":{"field":"R","type":"quantitative","scale":{"domain":[0,18.2],"nice":false,"zero":false},"axis":{"orient":"bottom","values":[1,2,3,4,6,7,8,9,11,12,13,14,16,17,18],"labels":false,"tickSize":-2.5,"title":null}},"y":{"field":"W","type":"quantitative","scale":{"domain":[0,231],"nice":false,"zero":false},"axis":{"orient":"left","values":[20,40,60,80,120,140,160,180,220],"labels":false,"tickSize":-2.5,"title":null}}}},
   {"data":{"name":"ax"},"mark":{"type":"point","opacity":0},"encoding":{"x":{"field":"R","type":"quantitative","scale":{"domain":[0,18.2],"nice":false,"zero":false},"axis":{"orient":"top","values":[0,5,10,15],"labels":false,"tickSize":-5,"title":null}},"y":{"field":"W","type":"quantitative","scale":{"domain":[0,231],"nice":false,"zero":false},"axis":{"orient":"right","values":[0,100,200],"labels":false,"tickSize":-5,"title":null}}}},
   {"data":{"name":"ax"},"mark":{"type":"point","opacity":0},"encoding":{"x":{"field":"R","type":"quantitative","scale":{"domain":[0,18.2],"nice":false,"zero":false},"axis":{"orient":"top","values":[1,2,3,4,6,7,8,9,11,12,13,14,16,17,18],"labels":false,"tickSize":-2.5,"title":null}},"y":{"field":"W","type":"quantitative","scale":{"domain":[0,231],"nice":false,"zero":false},"axis":{"orient":"right","values":[20,40,60,80,120,140,160,180,220],"labels":false,"tickSize":-2.5,"title":null}}}},
   {"data":{"name":"L2r"},"mark":{"type":"rule","strokeWidth":1.5,"clip":true},"encoding":{"x":{"field":"R","type":"quantitative","scale":{"domain":[0,18.2],"nice":false,"zero":false},"axis":null},"stroke":{"field":"lab","type":"nominal","scale":{"domain":["CR","iILR","oILR"],"range":["#ff4fa3","#33eeee","#8c8cf5"]},"legend":{"title":null,"orient":"top-right","offset":5.5,"columns":2,"symbolType":"M-1.35,0L1.35,0","symbolSize":196,"symbolStrokeWidth":1.6,"columnPadding":26,"rowPadding":1,"padding":6,"labelOffset":8,"strokeColor":"#cccccc","fillColor":"rgba(255,255,255,0.8)","cornerRadius":3,"labelFontSize":13.5,"symbolOpacity":1}}}},
   {"data":{"name":"L2"},"mark":{"type":"line","color":"#000000","strokeWidth":1.4,"clip":true},"encoding":{"x":{"field":"R","type":"quantitative","scale":{"domain":[0,18.2],"nice":false,"zero":false},"axis":null},"y":{"field":"W","type":"quantitative","scale":{"domain":[0,231],"nice":false,"zero":false},"axis":null},"detail":{"field":"g","type":"nominal"}}}
  ],
  "resolve": {"axis": {"x": "independent", "y": "independent"}}
 },
 {"width": 276, "height": 100,
  "layer": [
   {"data":{"name":"ax"},"mark":{"type":"point","opacity":0},"encoding":{"x":{"field":"R","type":"quantitative","scale":{"domain":[0,18.2],"nice":false,"zero":false},"axis":{"orient":"bottom","values":[0,5,10,15],"labels":false,"tickSize":-5,"title":null}},"y":{"field":"W","type":"quantitative","scale":{"domain":[0,200],"nice":false,"zero":false},"axis":{"orient":"left","values":[0,100,200],"tickSize":-5,"labelPadding":3,"titlePadding":6.5,"title":"Ω (km/s kpc)"}}}},
   {"data":{"name":"ax"},"mark":{"type":"point","opacity":0},"encoding":{"x":{"field":"R","type":"quantitative","scale":{"domain":[0,18.2],"nice":false,"zero":false},"axis":{"orient":"bottom","values":[1,2,3,4,6,7,8,9,11,12,13,14,16,17,18],"labels":false,"tickSize":-2.5,"title":null}},"y":{"field":"W","type":"quantitative","scale":{"domain":[0,200],"nice":false,"zero":false},"axis":{"orient":"left","values":[20,40,60,80,120,140,160,180],"labels":false,"tickSize":-2.5,"title":null}}}},
   {"data":{"name":"ax"},"mark":{"type":"point","opacity":0},"encoding":{"x":{"field":"R","type":"quantitative","scale":{"domain":[0,18.2],"nice":false,"zero":false},"axis":{"orient":"top","values":[0,5,10,15],"labels":false,"tickSize":-5,"title":null}},"y":{"field":"W","type":"quantitative","scale":{"domain":[0,200],"nice":false,"zero":false},"axis":{"orient":"right","values":[0,100,200],"labels":false,"tickSize":-5,"title":"arctan","titleFontSize":16,"titlePadding":5}}}},
   {"data":{"name":"ax"},"mark":{"type":"point","opacity":0},"encoding":{"x":{"field":"R","type":"quantitative","scale":{"domain":[0,18.2],"nice":false,"zero":false},"axis":{"orient":"top","values":[1,2,3,4,6,7,8,9,11,12,13,14,16,17,18],"labels":false,"tickSize":-2.5,"title":null}},"y":{"field":"W","type":"quantitative","scale":{"domain":[0,200],"nice":false,"zero":false},"axis":{"orient":"right","values":[20,40,60,80,120,140,160,180],"labels":false,"tickSize":-2.5,"title":null}}}},
   {"data":{"name":"R2r"},"transform":[{"filter":"datum.lab !== 'CR' && datum.lab !== 'P'"}],"mark":{"type":"rule","strokeWidth":1,"strokeDash":[3,2],"opacity":0.55,"clip":true},"encoding":{"x":{"field":"R","type":"quantitative","scale":{"domain":[0,18.2],"nice":false,"zero":false},"axis":null},"color":{"field":"lab","type":"nominal","scale":{"domain":["iILR","oILR","OLR"],"range":["#00e5e5","#6a6af0","#ff8c00"]},"legend":null}}},
   {"data":{"name":"R2r"},"transform":[{"filter":"datum.lab === 'CR'"}],"mark":{"type":"rule","strokeWidth":2,"color":"#ff6eb4","clip":true},"encoding":{"x":{"field":"R","type":"quantitative","scale":{"domain":[0,18.2],"nice":false,"zero":false},"axis":null}}},
   {"data":{"name":"R2p"},"mark":{"type":"line","color":"#fa7268","strokeWidth":1,"clip":true},"encoding":{"x":{"field":"R","type":"quantitative","scale":{"domain":[0,18.2],"nice":false,"zero":false},"axis":null},"y":{"field":"W","type":"quantitative","scale":{"domain":[0,200],"nice":false,"zero":false},"axis":null},"detail":{"field":"g","type":"nominal"}}},
   {"data":{"name":"R2m"},"mark":{"type":"line","color":"#66b2ff","strokeWidth":1,"clip":true},"encoding":{"x":{"field":"R","type":"quantitative","scale":{"domain":[0,18.2],"nice":false,"zero":false},"axis":null},"y":{"field":"W","type":"quantitative","scale":{"domain":[0,200],"nice":false,"zero":false},"axis":null},"detail":{"field":"g","type":"nominal"}}},
   {"data":{"name":"R2k"},"mark":{"type":"line","color":"#000000","strokeWidth":1.4,"clip":true},"encoding":{"x":{"field":"R","type":"quantitative","scale":{"domain":[0,18.2],"nice":false,"zero":false},"axis":null},"y":{"field":"W","type":"quantitative","scale":{"domain":[0,200],"nice":false,"zero":false},"axis":null},"detail":{"field":"g","type":"nominal"}}},
   {"data":{"name":"R2r"},"transform":[{"filter":"datum.lab === 'P'"}],"mark":{"type":"rule","strokeWidth":1,"strokeDash":[1,1.5],"color":"#ff1493","clip":true},"encoding":{"y":{"field":"W","type":"quantitative","scale":{"domain":[0,200],"nice":false,"zero":false},"axis":null}}},
   {"data":{"name":"R2r"},"transform":[{"filter":"datum.lab !== 'CR' && datum.lab !== 'P'"}],"mark":{"type":"point","filled":true,"opacity":1,"size":75,"shape":"M0,-1L0.2245,-0.309L0.951,-0.309L0.3633,0.118L0.588,0.809L0,0.382L-0.588,0.809L-0.3633,0.118L-0.951,-0.309L-0.2245,-0.309Z"},"encoding":{"x":{"field":"R","type":"quantitative","scale":{"domain":[0,18.2],"nice":false,"zero":false},"axis":null},"y":{"field":"W","type":"quantitative","scale":{"domain":[0,200],"nice":false,"zero":false},"axis":null},"color":{"field":"lab","type":"nominal","scale":{"domain":["iILR","oILR","OLR"],"range":["#00e5e5","#6a6af0","#ff8c00"]},"legend":null}}},
   {"data":{"values":[{"lab":"Ω"},{"lab":"CR"},{"lab":"Ω + κ/2"},{"lab":"iILR"},{"lab":"Ω − κ/2"},{"lab":"oILR"}]},"mark":{"type":"point","opacity":0},"encoding":{"x":{"datum":1,"type":"quantitative","scale":{"domain":[0,18.2],"nice":false,"zero":false},"axis":null},"y":{"datum":1,"type":"quantitative","scale":{"domain":[0,200],"nice":false,"zero":false},"axis":null},
     "stroke":{"field":"lab","type":"nominal","scale":{"domain":["Ω","Ω + κ/2","Ω − κ/2","CR","iILR","oILR"],"range":["#000000","#fa7268","#66b2ff","#ff6eb4","#00e5e5","#6a6af0"]},"legend":{"title":null,"orient":"top-right","offset":6,"columns":2,"symbolSize":196,"symbolStrokeWidth":1.5,"columnPadding":21,"rowPadding":1,"padding":7,"labelOffset":10,"strokeColor":"#cccccc","fillColor":"rgba(255,255,255,0.8)","cornerRadius":3,"labelFontSize":13.5,"symbolOpacity":1}},
     "fill":{"field":"lab","type":"nominal","scale":{"domain":["Ω","Ω + κ/2","Ω − κ/2","CR","iILR","oILR"],"range":["transparent","transparent","transparent","transparent","#00e5e5","#6a6af0"]},"legend":{"title":null,"orient":"top-right","offset":6,"columns":2,"symbolSize":196,"symbolStrokeWidth":1.5,"columnPadding":21,"rowPadding":1,"padding":7,"labelOffset":10,"strokeColor":"#cccccc","fillColor":"rgba(255,255,255,0.8)","cornerRadius":3,"labelFontSize":13.5,"symbolOpacity":1}},
     "shape":{"field":"lab","type":"nominal","scale":{"domain":["Ω","Ω + κ/2","Ω − κ/2","CR","iILR","oILR"],"range":["M-1.6,0L1.6,0","M-1.6,0L1.6,0","M-1.6,0L1.6,0","M-1.6,0L1.6,0","M0,-0.64L0.1437,-0.1978L0.6086,-0.1978L0.2325,0.0755L0.3763,0.5178L0,0.2445L-0.3763,0.5178L-0.2325,0.0755L-0.6086,-0.1978L-0.1437,-0.1978Z","M0,-0.64L0.1437,-0.1978L0.6086,-0.1978L0.2325,0.0755L0.3763,0.5178L0,0.2445L-0.3763,0.5178L-0.2325,0.0755L-0.6086,-0.1978L-0.1437,-0.1978Z"]},"legend":{"title":null,"orient":"top-right","offset":6,"columns":2,"symbolSize":196,"symbolStrokeWidth":1.5,"columnPadding":21,"rowPadding":1,"padding":7,"labelOffset":10,"strokeColor":"#cccccc","fillColor":"rgba(255,255,255,0.8)","cornerRadius":3,"labelFontSize":13.5,"symbolOpacity":1}}}}
  ],
  "resolve": {"axis": {"x": "independent", "y": "independent"}}
 },
 {"width": 275, "height": 100,
  "layer": [
   {"data":{"name":"ax"},"mark":{"type":"point","opacity":0},"encoding":{"x":{"field":"R","type":"quantitative","scale":{"domain":[0,18.2],"nice":false,"zero":false},"axis":{"orient":"bottom","values":[0,5,10,15],"labels":false,"tickSize":-5,"title":null}},"y":{"field":"W","type":"quantitative","scale":{"domain":[0,231],"nice":false,"zero":false},"axis":{"orient":"left","values":[0,100,200],"tickSize":-5,"labelPadding":3,"titlePadding":6.5,"title":"v (km/s)"}}}},
   {"data":{"name":"ax"},"mark":{"type":"point","opacity":0},"encoding":{"x":{"field":"R","type":"quantitative","scale":{"domain":[0,18.2],"nice":false,"zero":false},"axis":{"orient":"bottom","values":[1,2,3,4,6,7,8,9,11,12,13,14,16,17,18],"labels":false,"tickSize":-2.5,"title":null}},"y":{"field":"W","type":"quantitative","scale":{"domain":[0,231],"nice":false,"zero":false},"axis":{"orient":"left","values":[20,40,60,80,120,140,160,180,220],"labels":false,"tickSize":-2.5,"title":null}}}},
   {"data":{"name":"ax"},"mark":{"type":"point","opacity":0},"encoding":{"x":{"field":"R","type":"quantitative","scale":{"domain":[0,18.2],"nice":false,"zero":false},"axis":{"orient":"top","values":[0,5,10,15],"labels":false,"tickSize":-5,"title":null}},"y":{"field":"W","type":"quantitative","scale":{"domain":[0,231],"nice":false,"zero":false},"axis":{"orient":"right","values":[0,100,200],"labels":false,"tickSize":-5,"title":null}}}},
   {"data":{"name":"ax"},"mark":{"type":"point","opacity":0},"encoding":{"x":{"field":"R","type":"quantitative","scale":{"domain":[0,18.2],"nice":false,"zero":false},"axis":{"orient":"top","values":[1,2,3,4,6,7,8,9,11,12,13,14,16,17,18],"labels":false,"tickSize":-2.5,"title":null}},"y":{"field":"W","type":"quantitative","scale":{"domain":[0,231],"nice":false,"zero":false},"axis":{"orient":"right","values":[20,40,60,80,120,140,160,180,220],"labels":false,"tickSize":-2.5,"title":null}}}},
   {"data":{"name":"L3r"},"mark":{"type":"rule","strokeWidth":1.5,"clip":true},"encoding":{"x":{"field":"R","type":"quantitative","scale":{"domain":[0,18.2],"nice":false,"zero":false},"axis":null},"stroke":{"field":"lab","type":"nominal","scale":{"domain":["CR","oILR","OLR"],"range":["#ff4fa3","#8c8cf5","#ffb347"]},"legend":{"title":null,"orient":"top-right","offset":5.5,"columns":2,"symbolType":"M-1.35,0L1.35,0","symbolSize":196,"symbolStrokeWidth":1.6,"columnPadding":26,"rowPadding":1,"padding":6,"labelOffset":8,"strokeColor":"#cccccc","fillColor":"rgba(255,255,255,0.8)","cornerRadius":3,"labelFontSize":13.5,"symbolOpacity":1}}}},
   {"data":{"name":"L3"},"mark":{"type":"line","color":"#000000","strokeWidth":1.4,"clip":true},"encoding":{"x":{"field":"R","type":"quantitative","scale":{"domain":[0,18.2],"nice":false,"zero":false},"axis":null},"y":{"field":"W","type":"quantitative","scale":{"domain":[0,231],"nice":false,"zero":false},"axis":null},"detail":{"field":"g","type":"nominal"}}}
  ],
  "resolve": {"axis": {"x": "independent", "y": "independent"}}
 },
 {"width": 276, "height": 100,
  "layer": [
   {"data":{"name":"ax"},"mark":{"type":"point","opacity":0},"encoding":{"x":{"field":"R","type":"quantitative","scale":{"domain":[0,18.2],"nice":false,"zero":false},"axis":{"orient":"bottom","values":[0,5,10,15],"labels":false,"tickSize":-5,"title":null}},"y":{"field":"W","type":"quantitative","scale":{"domain":[0,200],"nice":false,"zero":false},"axis":{"orient":"left","values":[0,100,200],"tickSize":-5,"labelPadding":3,"titlePadding":6.5,"title":"Ω (km/s kpc)"}}}},
   {"data":{"name":"ax"},"mark":{"type":"point","opacity":0},"encoding":{"x":{"field":"R","type":"quantitative","scale":{"domain":[0,18.2],"nice":false,"zero":false},"axis":{"orient":"bottom","values":[1,2,3,4,6,7,8,9,11,12,13,14,16,17,18],"labels":false,"tickSize":-2.5,"title":null}},"y":{"field":"W","type":"quantitative","scale":{"domain":[0,200],"nice":false,"zero":false},"axis":{"orient":"left","values":[20,40,60,80,120,140,160,180],"labels":false,"tickSize":-2.5,"title":null}}}},
   {"data":{"name":"ax"},"mark":{"type":"point","opacity":0},"encoding":{"x":{"field":"R","type":"quantitative","scale":{"domain":[0,18.2],"nice":false,"zero":false},"axis":{"orient":"top","values":[0,5,10,15],"labels":false,"tickSize":-5,"title":null}},"y":{"field":"W","type":"quantitative","scale":{"domain":[0,200],"nice":false,"zero":false},"axis":{"orient":"right","values":[0,100,200],"labels":false,"tickSize":-5,"title":"MUSE-M⋆","titleFontSize":16,"titlePadding":5}}}},
   {"data":{"name":"ax"},"mark":{"type":"point","opacity":0},"encoding":{"x":{"field":"R","type":"quantitative","scale":{"domain":[0,18.2],"nice":false,"zero":false},"axis":{"orient":"top","values":[1,2,3,4,6,7,8,9,11,12,13,14,16,17,18],"labels":false,"tickSize":-2.5,"title":null}},"y":{"field":"W","type":"quantitative","scale":{"domain":[0,200],"nice":false,"zero":false},"axis":{"orient":"right","values":[20,40,60,80,120,140,160,180],"labels":false,"tickSize":-2.5,"title":null}}}},
   {"data":{"name":"R3r"},"transform":[{"filter":"datum.lab !== 'CR' && datum.lab !== 'P'"}],"mark":{"type":"rule","strokeWidth":1,"strokeDash":[3,2],"opacity":0.55,"clip":true},"encoding":{"x":{"field":"R","type":"quantitative","scale":{"domain":[0,18.2],"nice":false,"zero":false},"axis":null},"color":{"field":"lab","type":"nominal","scale":{"domain":["iILR","oILR","OLR"],"range":["#00e5e5","#6a6af0","#ff8c00"]},"legend":null}}},
   {"data":{"name":"R3r"},"transform":[{"filter":"datum.lab === 'CR'"}],"mark":{"type":"rule","strokeWidth":2,"color":"#ff6eb4","clip":true},"encoding":{"x":{"field":"R","type":"quantitative","scale":{"domain":[0,18.2],"nice":false,"zero":false},"axis":null}}},
   {"data":{"name":"R3p"},"mark":{"type":"line","color":"#fa7268","strokeWidth":1,"clip":true},"encoding":{"x":{"field":"R","type":"quantitative","scale":{"domain":[0,18.2],"nice":false,"zero":false},"axis":null},"y":{"field":"W","type":"quantitative","scale":{"domain":[0,200],"nice":false,"zero":false},"axis":null},"detail":{"field":"g","type":"nominal"}}},
   {"data":{"name":"R3m"},"mark":{"type":"line","color":"#66b2ff","strokeWidth":1,"clip":true},"encoding":{"x":{"field":"R","type":"quantitative","scale":{"domain":[0,18.2],"nice":false,"zero":false},"axis":null},"y":{"field":"W","type":"quantitative","scale":{"domain":[0,200],"nice":false,"zero":false},"axis":null},"detail":{"field":"g","type":"nominal"}}},
   {"data":{"name":"R3k"},"mark":{"type":"line","color":"#000000","strokeWidth":1.4,"clip":true},"encoding":{"x":{"field":"R","type":"quantitative","scale":{"domain":[0,18.2],"nice":false,"zero":false},"axis":null},"y":{"field":"W","type":"quantitative","scale":{"domain":[0,200],"nice":false,"zero":false},"axis":null},"detail":{"field":"g","type":"nominal"}}},
   {"data":{"name":"R3r"},"transform":[{"filter":"datum.lab === 'P'"}],"mark":{"type":"rule","strokeWidth":1,"strokeDash":[1,1.5],"color":"#ff1493","clip":true},"encoding":{"y":{"field":"W","type":"quantitative","scale":{"domain":[0,200],"nice":false,"zero":false},"axis":null}}},
   {"data":{"name":"R3r"},"transform":[{"filter":"datum.lab !== 'CR' && datum.lab !== 'P'"}],"mark":{"type":"point","filled":true,"opacity":1,"size":75,"shape":"M0,-1L0.2245,-0.309L0.951,-0.309L0.3633,0.118L0.588,0.809L0,0.382L-0.588,0.809L-0.3633,0.118L-0.951,-0.309L-0.2245,-0.309Z"},"encoding":{"x":{"field":"R","type":"quantitative","scale":{"domain":[0,18.2],"nice":false,"zero":false},"axis":null},"y":{"field":"W","type":"quantitative","scale":{"domain":[0,200],"nice":false,"zero":false},"axis":null},"color":{"field":"lab","type":"nominal","scale":{"domain":["iILR","oILR","OLR"],"range":["#00e5e5","#6a6af0","#ff8c00"]},"legend":null}}},
   {"data":{"values":[{"lab":"Ω"},{"lab":"CR"},{"lab":"Ω + κ/2"},{"lab":"oILR"},{"lab":"Ω − κ/2"},{"lab":"OLR"}]},"mark":{"type":"point","opacity":0},"encoding":{"x":{"datum":1,"type":"quantitative","scale":{"domain":[0,18.2],"nice":false,"zero":false},"axis":null},"y":{"datum":1,"type":"quantitative","scale":{"domain":[0,200],"nice":false,"zero":false},"axis":null},
     "stroke":{"field":"lab","type":"nominal","scale":{"domain":["Ω","Ω + κ/2","Ω − κ/2","CR","oILR","OLR"],"range":["#000000","#fa7268","#66b2ff","#ff6eb4","#6a6af0","#ff8c00"]},"legend":{"title":null,"orient":"top-right","offset":6,"columns":2,"symbolSize":196,"symbolStrokeWidth":1.5,"columnPadding":21,"rowPadding":1,"padding":7,"labelOffset":10,"strokeColor":"#cccccc","fillColor":"rgba(255,255,255,0.8)","cornerRadius":3,"labelFontSize":13.5,"symbolOpacity":1}},
     "fill":{"field":"lab","type":"nominal","scale":{"domain":["Ω","Ω + κ/2","Ω − κ/2","CR","oILR","OLR"],"range":["transparent","transparent","transparent","transparent","#6a6af0","#ff8c00"]},"legend":{"title":null,"orient":"top-right","offset":6,"columns":2,"symbolSize":196,"symbolStrokeWidth":1.5,"columnPadding":21,"rowPadding":1,"padding":7,"labelOffset":10,"strokeColor":"#cccccc","fillColor":"rgba(255,255,255,0.8)","cornerRadius":3,"labelFontSize":13.5,"symbolOpacity":1}},
     "shape":{"field":"lab","type":"nominal","scale":{"domain":["Ω","Ω + κ/2","Ω − κ/2","CR","oILR","OLR"],"range":["M-1.6,0L1.6,0","M-1.6,0L1.6,0","M-1.6,0L1.6,0","M-1.6,0L1.6,0","M0,-0.64L0.1437,-0.1978L0.6086,-0.1978L0.2325,0.0755L0.3763,0.5178L0,0.2445L-0.3763,0.5178L-0.2325,0.0755L-0.6086,-0.1978L-0.1437,-0.1978Z","M0,-0.64L0.1437,-0.1978L0.6086,-0.1978L0.2325,0.0755L0.3763,0.5178L0,0.2445L-0.3763,0.5178L-0.2325,0.0755L-0.6086,-0.1978L-0.1437,-0.1978Z"]},"legend":{"title":null,"orient":"top-right","offset":6,"columns":2,"symbolSize":196,"symbolStrokeWidth":1.5,"columnPadding":21,"rowPadding":1,"padding":7,"labelOffset":10,"strokeColor":"#cccccc","fillColor":"rgba(255,255,255,0.8)","cornerRadius":3,"labelFontSize":13.5,"symbolOpacity":1}}}}
  ],
  "resolve": {"axis": {"x": "independent", "y": "independent"}}
 },
 {"width": 275, "height": 100,
  "layer": [
   {"data":{"name":"ax"},"mark":{"type":"point","opacity":0},"encoding":{"x":{"field":"R","type":"quantitative","scale":{"domain":[0,18.2],"nice":false,"zero":false},"axis":{"orient":"bottom","values":[0,5,10,15],"labels":true,"labelPadding":2,"tickSize":-5,"title":"R (kpc)"}},"y":{"field":"W","type":"quantitative","scale":{"domain":[0,231],"nice":false,"zero":false},"axis":{"orient":"left","values":[0,100,200],"tickSize":-5,"labelPadding":3,"titlePadding":6.5,"title":"v (km/s)"}}}},
   {"data":{"name":"ax"},"mark":{"type":"point","opacity":0},"encoding":{"x":{"field":"R","type":"quantitative","scale":{"domain":[0,18.2],"nice":false,"zero":false},"axis":{"orient":"bottom","values":[1,2,3,4,6,7,8,9,11,12,13,14,16,17,18],"labels":false,"tickSize":-2.5,"title":null}},"y":{"field":"W","type":"quantitative","scale":{"domain":[0,231],"nice":false,"zero":false},"axis":{"orient":"left","values":[20,40,60,80,120,140,160,180,220],"labels":false,"tickSize":-2.5,"title":null}}}},
   {"data":{"name":"ax"},"mark":{"type":"point","opacity":0},"encoding":{"x":{"field":"R","type":"quantitative","scale":{"domain":[0,18.2],"nice":false,"zero":false},"axis":{"orient":"top","values":[0,5,10,15],"labels":false,"tickSize":-5,"title":null}},"y":{"field":"W","type":"quantitative","scale":{"domain":[0,231],"nice":false,"zero":false},"axis":{"orient":"right","values":[0,100,200],"labels":false,"tickSize":-5,"title":null}}}},
   {"data":{"name":"ax"},"mark":{"type":"point","opacity":0},"encoding":{"x":{"field":"R","type":"quantitative","scale":{"domain":[0,18.2],"nice":false,"zero":false},"axis":{"orient":"top","values":[1,2,3,4,6,7,8,9,11,12,13,14,16,17,18],"labels":false,"tickSize":-2.5,"title":null}},"y":{"field":"W","type":"quantitative","scale":{"domain":[0,231],"nice":false,"zero":false},"axis":{"orient":"right","values":[20,40,60,80,120,140,160,180,220],"labels":false,"tickSize":-2.5,"title":null}}}},
   {"data":{"name":"L4r"},"mark":{"type":"rule","strokeWidth":1.5,"clip":true},"encoding":{"x":{"field":"R","type":"quantitative","scale":{"domain":[0,18.2],"nice":false,"zero":false},"axis":null},"stroke":{"field":"lab","type":"nominal","scale":{"domain":["CR","iILR","oILR","OLR"],"range":["#ff4fa3","#33eeee","#8c8cf5","#ffb347"]},"legend":{"title":null,"orient":"none","legendX":70,"legendY":58,"columns":2,"symbolType":"M-1.35,0L1.35,0","symbolSize":196,"symbolStrokeWidth":1.6,"columnPadding":26,"rowPadding":1,"padding":6,"labelOffset":8,"strokeColor":"#cccccc","fillColor":"rgba(255,255,255,0.8)","cornerRadius":3,"labelFontSize":13.5,"symbolOpacity":1}}}},
   {"data":{"name":"L4"},"mark":{"type":"line","color":"#000000","strokeWidth":1.4,"clip":true},"encoding":{"x":{"field":"R","type":"quantitative","scale":{"domain":[0,18.2],"nice":false,"zero":false},"axis":null},"y":{"field":"W","type":"quantitative","scale":{"domain":[0,231],"nice":false,"zero":false},"axis":null},"detail":{"field":"g","type":"nominal"}}}
  ],
  "resolve": {"axis": {"x": "independent", "y": "independent"}}
 },
 {"width": 276, "height": 100,
  "layer": [
   {"data":{"name":"ax"},"mark":{"type":"point","opacity":0},"encoding":{"x":{"field":"R","type":"quantitative","scale":{"domain":[0,18.2],"nice":false,"zero":false},"axis":{"orient":"bottom","values":[0,5,10,15],"labels":true,"labelPadding":2,"tickSize":-5,"title":"R (kpc)"}},"y":{"field":"W","type":"quantitative","scale":{"domain":[0,200],"nice":false,"zero":false},"axis":{"orient":"left","values":[0,100,200],"tickSize":-5,"labelPadding":3,"titlePadding":6.5,"title":"Ω (km/s kpc)"}}}},
   {"data":{"name":"ax"},"mark":{"type":"point","opacity":0},"encoding":{"x":{"field":"R","type":"quantitative","scale":{"domain":[0,18.2],"nice":false,"zero":false},"axis":{"orient":"bottom","values":[1,2,3,4,6,7,8,9,11,12,13,14,16,17,18],"labels":false,"tickSize":-2.5,"title":null}},"y":{"field":"W","type":"quantitative","scale":{"domain":[0,200],"nice":false,"zero":false},"axis":{"orient":"left","values":[20,40,60,80,120,140,160,180],"labels":false,"tickSize":-2.5,"title":null}}}},
   {"data":{"name":"ax"},"mark":{"type":"point","opacity":0},"encoding":{"x":{"field":"R","type":"quantitative","scale":{"domain":[0,18.2],"nice":false,"zero":false},"axis":{"orient":"top","values":[0,5,10,15],"labels":false,"tickSize":-5,"title":null}},"y":{"field":"W","type":"quantitative","scale":{"domain":[0,200],"nice":false,"zero":false},"axis":{"orient":"right","values":[0,100,200],"labels":false,"tickSize":-5,"title":"MUSE-Hα","titleFontSize":16,"titlePadding":5}}}},
   {"data":{"name":"ax"},"mark":{"type":"point","opacity":0},"encoding":{"x":{"field":"R","type":"quantitative","scale":{"domain":[0,18.2],"nice":false,"zero":false},"axis":{"orient":"top","values":[1,2,3,4,6,7,8,9,11,12,13,14,16,17,18],"labels":false,"tickSize":-2.5,"title":null}},"y":{"field":"W","type":"quantitative","scale":{"domain":[0,200],"nice":false,"zero":false},"axis":{"orient":"right","values":[20,40,60,80,120,140,160,180],"labels":false,"tickSize":-2.5,"title":null}}}},
   {"data":{"name":"R4r"},"transform":[{"filter":"datum.lab !== 'CR' && datum.lab !== 'P'"}],"mark":{"type":"rule","strokeWidth":1,"strokeDash":[3,2],"opacity":0.55,"clip":true},"encoding":{"x":{"field":"R","type":"quantitative","scale":{"domain":[0,18.2],"nice":false,"zero":false},"axis":null},"color":{"field":"lab","type":"nominal","scale":{"domain":["iILR","oILR","OLR"],"range":["#00e5e5","#6a6af0","#ff8c00"]},"legend":null}}},
   {"data":{"name":"R4r"},"transform":[{"filter":"datum.lab === 'CR'"}],"mark":{"type":"rule","strokeWidth":2,"color":"#ff6eb4","clip":true},"encoding":{"x":{"field":"R","type":"quantitative","scale":{"domain":[0,18.2],"nice":false,"zero":false},"axis":null}}},
   {"data":{"name":"R4p"},"mark":{"type":"line","color":"#fa7268","strokeWidth":1,"clip":true},"encoding":{"x":{"field":"R","type":"quantitative","scale":{"domain":[0,18.2],"nice":false,"zero":false},"axis":null},"y":{"field":"W","type":"quantitative","scale":{"domain":[0,200],"nice":false,"zero":false},"axis":null},"detail":{"field":"g","type":"nominal"}}},
   {"data":{"name":"R4m"},"mark":{"type":"line","color":"#66b2ff","strokeWidth":1,"clip":true},"encoding":{"x":{"field":"R","type":"quantitative","scale":{"domain":[0,18.2],"nice":false,"zero":false},"axis":null},"y":{"field":"W","type":"quantitative","scale":{"domain":[0,200],"nice":false,"zero":false},"axis":null},"detail":{"field":"g","type":"nominal"}}},
   {"data":{"name":"R4k"},"mark":{"type":"line","color":"#000000","strokeWidth":1.4,"clip":true},"encoding":{"x":{"field":"R","type":"quantitative","scale":{"domain":[0,18.2],"nice":false,"zero":false},"axis":null},"y":{"field":"W","type":"quantitative","scale":{"domain":[0,200],"nice":false,"zero":false},"axis":null},"detail":{"field":"g","type":"nominal"}}},
   {"data":{"name":"R4r"},"transform":[{"filter":"datum.lab === 'P'"}],"mark":{"type":"rule","strokeWidth":1,"strokeDash":[1,1.5],"color":"#ff1493","clip":true},"encoding":{"y":{"field":"W","type":"quantitative","scale":{"domain":[0,200],"nice":false,"zero":false},"axis":null}}},
   {"data":{"name":"R4r"},"transform":[{"filter":"datum.lab !== 'CR' && datum.lab !== 'P'"}],"mark":{"type":"point","filled":true,"opacity":1,"size":75,"shape":"M0,-1L0.2245,-0.309L0.951,-0.309L0.3633,0.118L0.588,0.809L0,0.382L-0.588,0.809L-0.3633,0.118L-0.951,-0.309L-0.2245,-0.309Z"},"encoding":{"x":{"field":"R","type":"quantitative","scale":{"domain":[0,18.2],"nice":false,"zero":false},"axis":null},"y":{"field":"W","type":"quantitative","scale":{"domain":[0,200],"nice":false,"zero":false},"axis":null},"color":{"field":"lab","type":"nominal","scale":{"domain":["iILR","oILR","OLR"],"range":["#00e5e5","#6a6af0","#ff8c00"]},"legend":null}}},
   {"data":{"values":[{"lab":"Ω"},{"lab":"iILR"},{"lab":"Ω + κ/2"},{"lab":"oILR"},{"lab":"Ω − κ/2"},{"lab":"OLR"},{"lab":"CR"}]},"mark":{"type":"point","opacity":0},"encoding":{"x":{"datum":1,"type":"quantitative","scale":{"domain":[0,18.2],"nice":false,"zero":false},"axis":null},"y":{"datum":1,"type":"quantitative","scale":{"domain":[0,200],"nice":false,"zero":false},"axis":null},
     "stroke":{"field":"lab","type":"nominal","scale":{"domain":["Ω","Ω + κ/2","Ω − κ/2","CR","iILR","oILR","OLR"],"range":["#000000","#fa7268","#66b2ff","#ff6eb4","#00e5e5","#6a6af0","#ff8c00"]},"legend":{"title":null,"orient":"top-right","offset":6,"columns":2,"symbolSize":196,"symbolStrokeWidth":1.5,"columnPadding":21,"rowPadding":1,"padding":7,"labelOffset":10,"strokeColor":"#cccccc","fillColor":"rgba(255,255,255,0.8)","cornerRadius":3,"labelFontSize":13.5,"symbolOpacity":1}},
     "fill":{"field":"lab","type":"nominal","scale":{"domain":["Ω","Ω + κ/2","Ω − κ/2","CR","iILR","oILR","OLR"],"range":["transparent","transparent","transparent","transparent","#00e5e5","#6a6af0","#ff8c00"]},"legend":{"title":null,"orient":"top-right","offset":6,"columns":2,"symbolSize":196,"symbolStrokeWidth":1.5,"columnPadding":21,"rowPadding":1,"padding":7,"labelOffset":10,"strokeColor":"#cccccc","fillColor":"rgba(255,255,255,0.8)","cornerRadius":3,"labelFontSize":13.5,"symbolOpacity":1}},
     "shape":{"field":"lab","type":"nominal","scale":{"domain":["Ω","Ω + κ/2","Ω − κ/2","CR","iILR","oILR","OLR"],"range":["M-1.6,0L1.6,0","M-1.6,0L1.6,0","M-1.6,0L1.6,0","M-1.6,0L1.6,0","M0,-0.64L0.1437,-0.1978L0.6086,-0.1978L0.2325,0.0755L0.3763,0.5178L0,0.2445L-0.3763,0.5178L-0.2325,0.0755L-0.6086,-0.1978L-0.1437,-0.1978Z","M0,-0.64L0.1437,-0.1978L0.6086,-0.1978L0.2325,0.0755L0.3763,0.5178L0,0.2445L-0.3763,0.5178L-0.2325,0.0755L-0.6086,-0.1978L-0.1437,-0.1978Z","M0,-0.64L0.1437,-0.1978L0.6086,-0.1978L0.2325,0.0755L0.3763,0.5178L0,0.2445L-0.3763,0.5178L-0.2325,0.0755L-0.6086,-0.1978L-0.1437,-0.1978Z"]},"legend":{"title":null,"orient":"top-right","offset":6,"columns":2,"symbolSize":196,"symbolStrokeWidth":1.5,"columnPadding":21,"rowPadding":1,"padding":7,"labelOffset":10,"strokeColor":"#cccccc","fillColor":"rgba(255,255,255,0.8)","cornerRadius":3,"labelFontSize":13.5,"symbolOpacity":1}}}}
  ],
  "resolve": {"axis": {"x": "independent", "y": "independent"}}
 }
]
}
